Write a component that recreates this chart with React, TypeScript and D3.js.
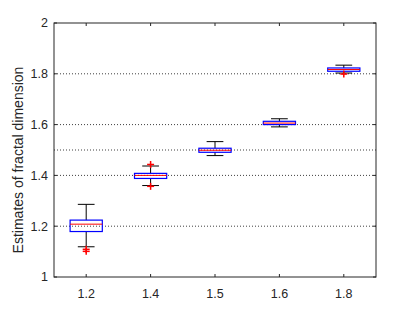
import React from "react";
import * as d3 from "d3";

const categories = ["1.2", "1.4", "1.5", "1.6", "1.8"];
const refValues = [1.2, 1.4, 1.5, 1.6, 1.8];
const q1 = [1.179, 1.388, 1.491, 1.600, 1.810];
const medians = [1.208, 1.400, 1.499, 1.606, 1.817];
const q3 = [1.224, 1.408, 1.507, 1.613, 1.823];
const whiskerLow = [1.119, 1.360, 1.478, 1.591, 1.803];
const whiskerHigh = [1.286, 1.437, 1.533, 1.623, 1.834];
const outliers: number[][] = [[1.109, 1.101], [1.443, 1.357], [], [], [1.799]];
const yTicks = [1, 1.2, 1.4, 1.6, 1.8, 2];
const yLabel = "Estimates of fractal dimension";

const W = 415, H = 312;
const L = 54, R = 376, T = 23, B = 277;

export default function App() {
  const x = d3.scaleLinear().domain([0.5, categories.length + 0.5]).range([L, R]);
  const y = d3.scaleLinear().domain([1, 2]).range([B, T]);
  const step = x(2) - x(1);
  const bw = step * 0.5;
  const cw = step * 0.26;
  const axisColor = "#262626";
  const font = "'Liberation Sans', Arial, Helvetica, sans-serif";
  return (
    <svg width={W} height={H} style={{ position: "absolute", left: 0, top: 0 }}>
      <rect x={0} y={0} width={W} height={H} fill="#fff" />
      {refValues.map((v, i) => (
        <line key={"g" + i} x1={L} x2={R} y1={y(v)} y2={y(v)} stroke="#000" strokeWidth={1} strokeDasharray="1,2" opacity={0.75} />
      ))}
      {categories.map((c, i) => {
        const cx = x(i + 1);
        return (
          <g key={"b" + i}>
            <line x1={cx} x2={cx} y1={y(q3[i])} y2={y(whiskerHigh[i])} stroke="#000" strokeWidth={1} />
            <line x1={cx} x2={cx} y1={y(q1[i])} y2={y(whiskerLow[i])} stroke="#000" strokeWidth={1} />
            <line x1={cx - cw / 2} x2={cx + cw / 2} y1={y(whiskerHigh[i])} y2={y(whiskerHigh[i])} stroke="#000" strokeWidth={1} />
            <line x1={cx - cw / 2} x2={cx + cw / 2} y1={y(whiskerLow[i])} y2={y(whiskerLow[i])} stroke="#000" strokeWidth={1} />
            <rect x={cx - bw / 2} y={y(q3[i])} width={bw} height={y(q1[i]) - y(q3[i])} fill="none" stroke="#0000ff" strokeWidth={1.2} />
            <line x1={cx - bw / 2} x2={cx + bw / 2} y1={y(medians[i])} y2={y(medians[i])} stroke="#ff0000" strokeWidth={1} />
            {outliers[i].map((o, j) => (
              <g key={j}>
                <line x1={cx - 3.5} x2={cx + 3.5} y1={y(o)} y2={y(o)} stroke="#ff0000" strokeWidth={1.5} />
                <line x1={cx} x2={cx} y1={y(o) - 3.5} y2={y(o) + 3.5} stroke="#ff0000" strokeWidth={1.5} />
              </g>
            ))}
          </g>
        );
      })}
      <rect x={L} y={T} width={R - L} height={B - T} fill="none" stroke={axisColor} strokeWidth={1} />
      {yTicks.map((t, i) => (
        <g key={"yt" + i}>
          <line x1={L} x2={L + 3} y1={y(t)} y2={y(t)} stroke={axisColor} />
          <line x1={R} x2={R - 3} y1={y(t)} y2={y(t)} stroke={axisColor} />
          <text x={L - 6} y={y(t)} dy="0.35em" textAnchor="end" fontSize={12.5} fill={axisColor} fontFamily={font}>{t}</text>
        </g>
      ))}
      {categories.map((c, i) => (
        <g key={"xt" + i}>
          <line x1={x(i + 1)} x2={x(i + 1)} y1={B} y2={B - 3} stroke={axisColor} />
          <line x1={x(i + 1)} x2={x(i + 1)} y1={T} y2={T + 3} stroke={axisColor} />
          <text x={x(i + 1)} y={B + 17} dy="0.35em" textAnchor="middle" fontSize={12.5} fill={axisColor} fontFamily={font}>{c}</text>
        </g>
      ))}
      <text transform={`translate(${23},${(T + B) / 2 + 10}) rotate(-90)`} textAnchor="middle" fontSize={14} fill={axisColor} fontFamily={font}>{yLabel}</text>
    </svg>
  );
}
